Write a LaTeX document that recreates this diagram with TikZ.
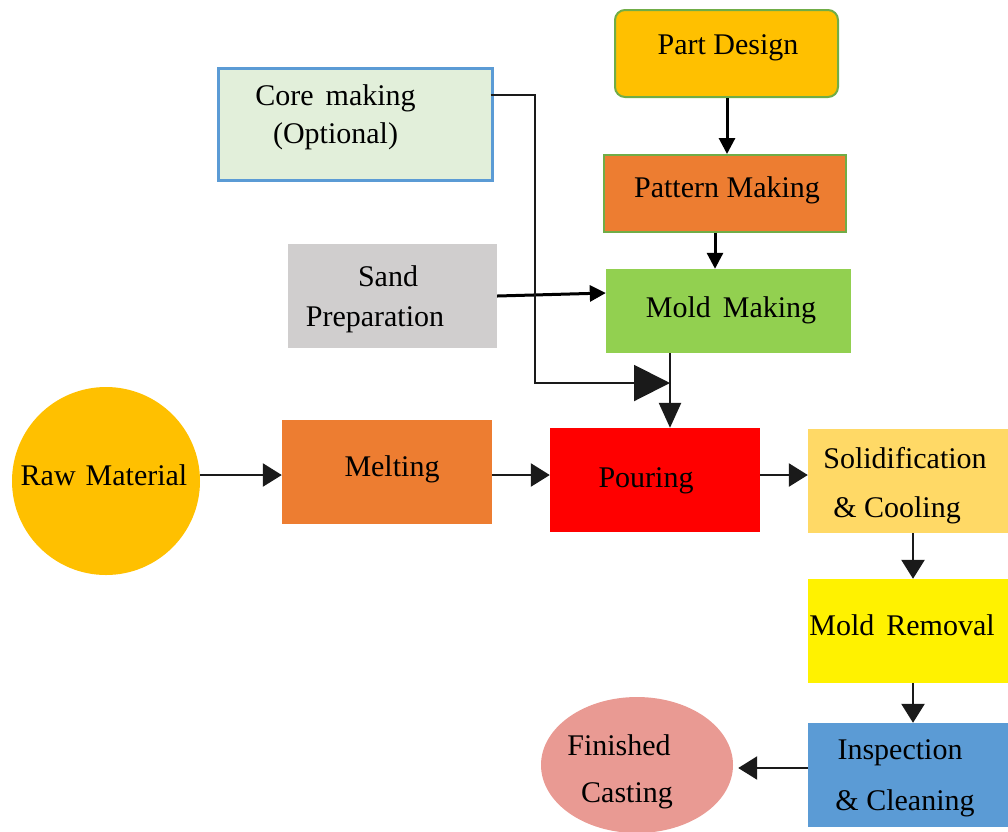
\documentclass[tikz,border=0pt]{standalone}
\usepackage{fontspec}
\setmainfont{Liberation Serif}
\usetikzlibrary{arrows.meta,shapes.geometric,calc}

\definecolor{gold}{HTML}{FFC000}
\definecolor{orangeA}{HTML}{ED7D31}
\definecolor{paleGreen}{HTML}{E2EFDA}
\definecolor{steelBlue}{HTML}{5B9BD5}
\definecolor{greyA}{HTML}{D0CECE}
\definecolor{leaf}{HTML}{92D050}
\definecolor{lightGold}{HTML}{FFD966}
\definecolor{rose}{HTML}{E99A93}
\definecolor{edgeGreen}{HTML}{70AD47}
\definecolor{ink}{HTML}{1A1A1A}

\begin{document}
\begin{tikzpicture}[x=1pt,y=-1pt,
  txt/.style={font=\fontsize{30}{36}\selectfont, align=center, text=black, inner sep=0pt},
  box/.style={rectangle, draw=none, inner sep=0pt},
  flow/.style={draw=ink, line width=2.5pt, -{Triangle[length=19pt,width=23pt]}},
  thinflow/.style={draw=black, line width=3pt, -{Triangle[length=16pt,width=16pt]}},
  bigflow/.style={draw=ink, line width=2pt, -{Triangle[length=36pt,width=36pt]}},
  midflow/.style={draw=ink, line width=2.5pt, -{Triangle[length=25pt,width=22pt]}}]
\useasboundingbox (0,0) rectangle (1008,831);

% process shapes
\node[box, fill=gold, draw=edgeGreen, line width=2pt, rounded corners=10pt,
      minimum width=223pt, minimum height=87pt] (part) at (726.5,53.5) {};
\node[box, fill=orangeA, draw=edgeGreen, line width=2pt,
      minimum width=242pt, minimum height=77pt] (pattern) at (725,193.5) {};
\node[box, fill=paleGreen, draw=steelBlue, line width=3pt,
      minimum width=274pt, minimum height=112pt] (core) at (355,124) {};
\node[box, fill=greyA, minimum width=209pt, minimum height=104pt] (sand) at (392.5,296) {};
\node[box, fill=leaf, minimum width=245pt, minimum height=84pt] (mold) at (728.5,311) {};
\node[circle, fill=gold, minimum size=188pt, inner sep=0pt] (raw) at (106,481) {};
\node[box, fill=orangeA, minimum width=210pt, minimum height=104pt] (melt) at (387,472) {};
\node[box, fill=red, minimum width=210pt, minimum height=104pt] (pour) at (655,480) {};
\node[box, fill=lightGold, minimum width=206pt, minimum height=104pt] (solid) at (911,481) {};
\node[box, fill=yellow, minimum width=206pt, minimum height=104pt] (removal) at (911,631) {};
\node[box, fill=steelBlue, minimum width=206pt, minimum height=104pt] (inspect) at (911,775) {};
\node[ellipse, fill=rose, minimum width=192pt, minimum height=136pt, inner sep=0pt] (final) at (637,765) {};

% labels
\node[txt] (part-t) at (728,48) {Part Design};
\node[txt] (pattern-t) at (727,190) {Pattern Making};
\node[txt] (core-t) at (335.5,117) {Core\hspace{12pt}making\\[2pt](Optional)};
\node[txt] (sand-t) at (375,299) {\hspace*{26pt}Sand\\[4pt]Preparation};
\node[txt] (mold-t) at (731,310) {Mold\hspace{12pt}Making};
\node[txt] (raw-t) at (104,475) {Raw\hspace{10pt}Material};
\node[txt] (melt-t) at (392,469) {Melting};
\node[txt] (pour-t) at (646,481) {Pouring};
\node[txt] (solid-t) at (905,485.5) {Solidification\\[13pt]\hspace*{-16pt}\& Cooling};
\node[txt] (removal-t) at (902,625) {Mold\hspace{12pt}Removal};
\node[txt] (inspect-t) at (905,778.5) {\hspace*{-10pt}Inspection\\[15pt]\& Cleaning};
\node[txt] (final-t) at (627,771.5) {\hspace*{-16pt}Finished\\[11pt]Casting};

\coordinate (join) at (670,383);

% connectors
\draw[thinflow] (part.south -| 727,0) -- (pattern.north -| 727,0);
\draw[thinflow] (pattern.south -| 715,0) -- (mold.north -| 715,0);
\draw[thinflow] (sand.east |- 0,296) -- (mold.west |- 0,293);
\draw[bigflow] ($(core.east |- 0,95)+(-3,0)$) -- (535,95) |- (join);
\draw[midflow] (mold.south -| join) -- (pour.north -| join);
\draw[flow] (raw.east |- 0,475) -- (melt.west |- 0,475);
\draw[flow] (melt.east |- 0,475) -- (pour.west |- 0,475);
\draw[flow] (pour.east |- 0,475) -- (solid.west |- 0,475);
\draw[flow] (solid.south -| 913,0) -- (removal.north -| 913,0);
\draw[flow] (removal.south -| 913,0) -- (inspect.north -| 913,0);
\draw[flow, shorten >=5pt] (inspect.west |- 0,768) -- (final.east |- 0,768);
\end{tikzpicture}
\end{document}
